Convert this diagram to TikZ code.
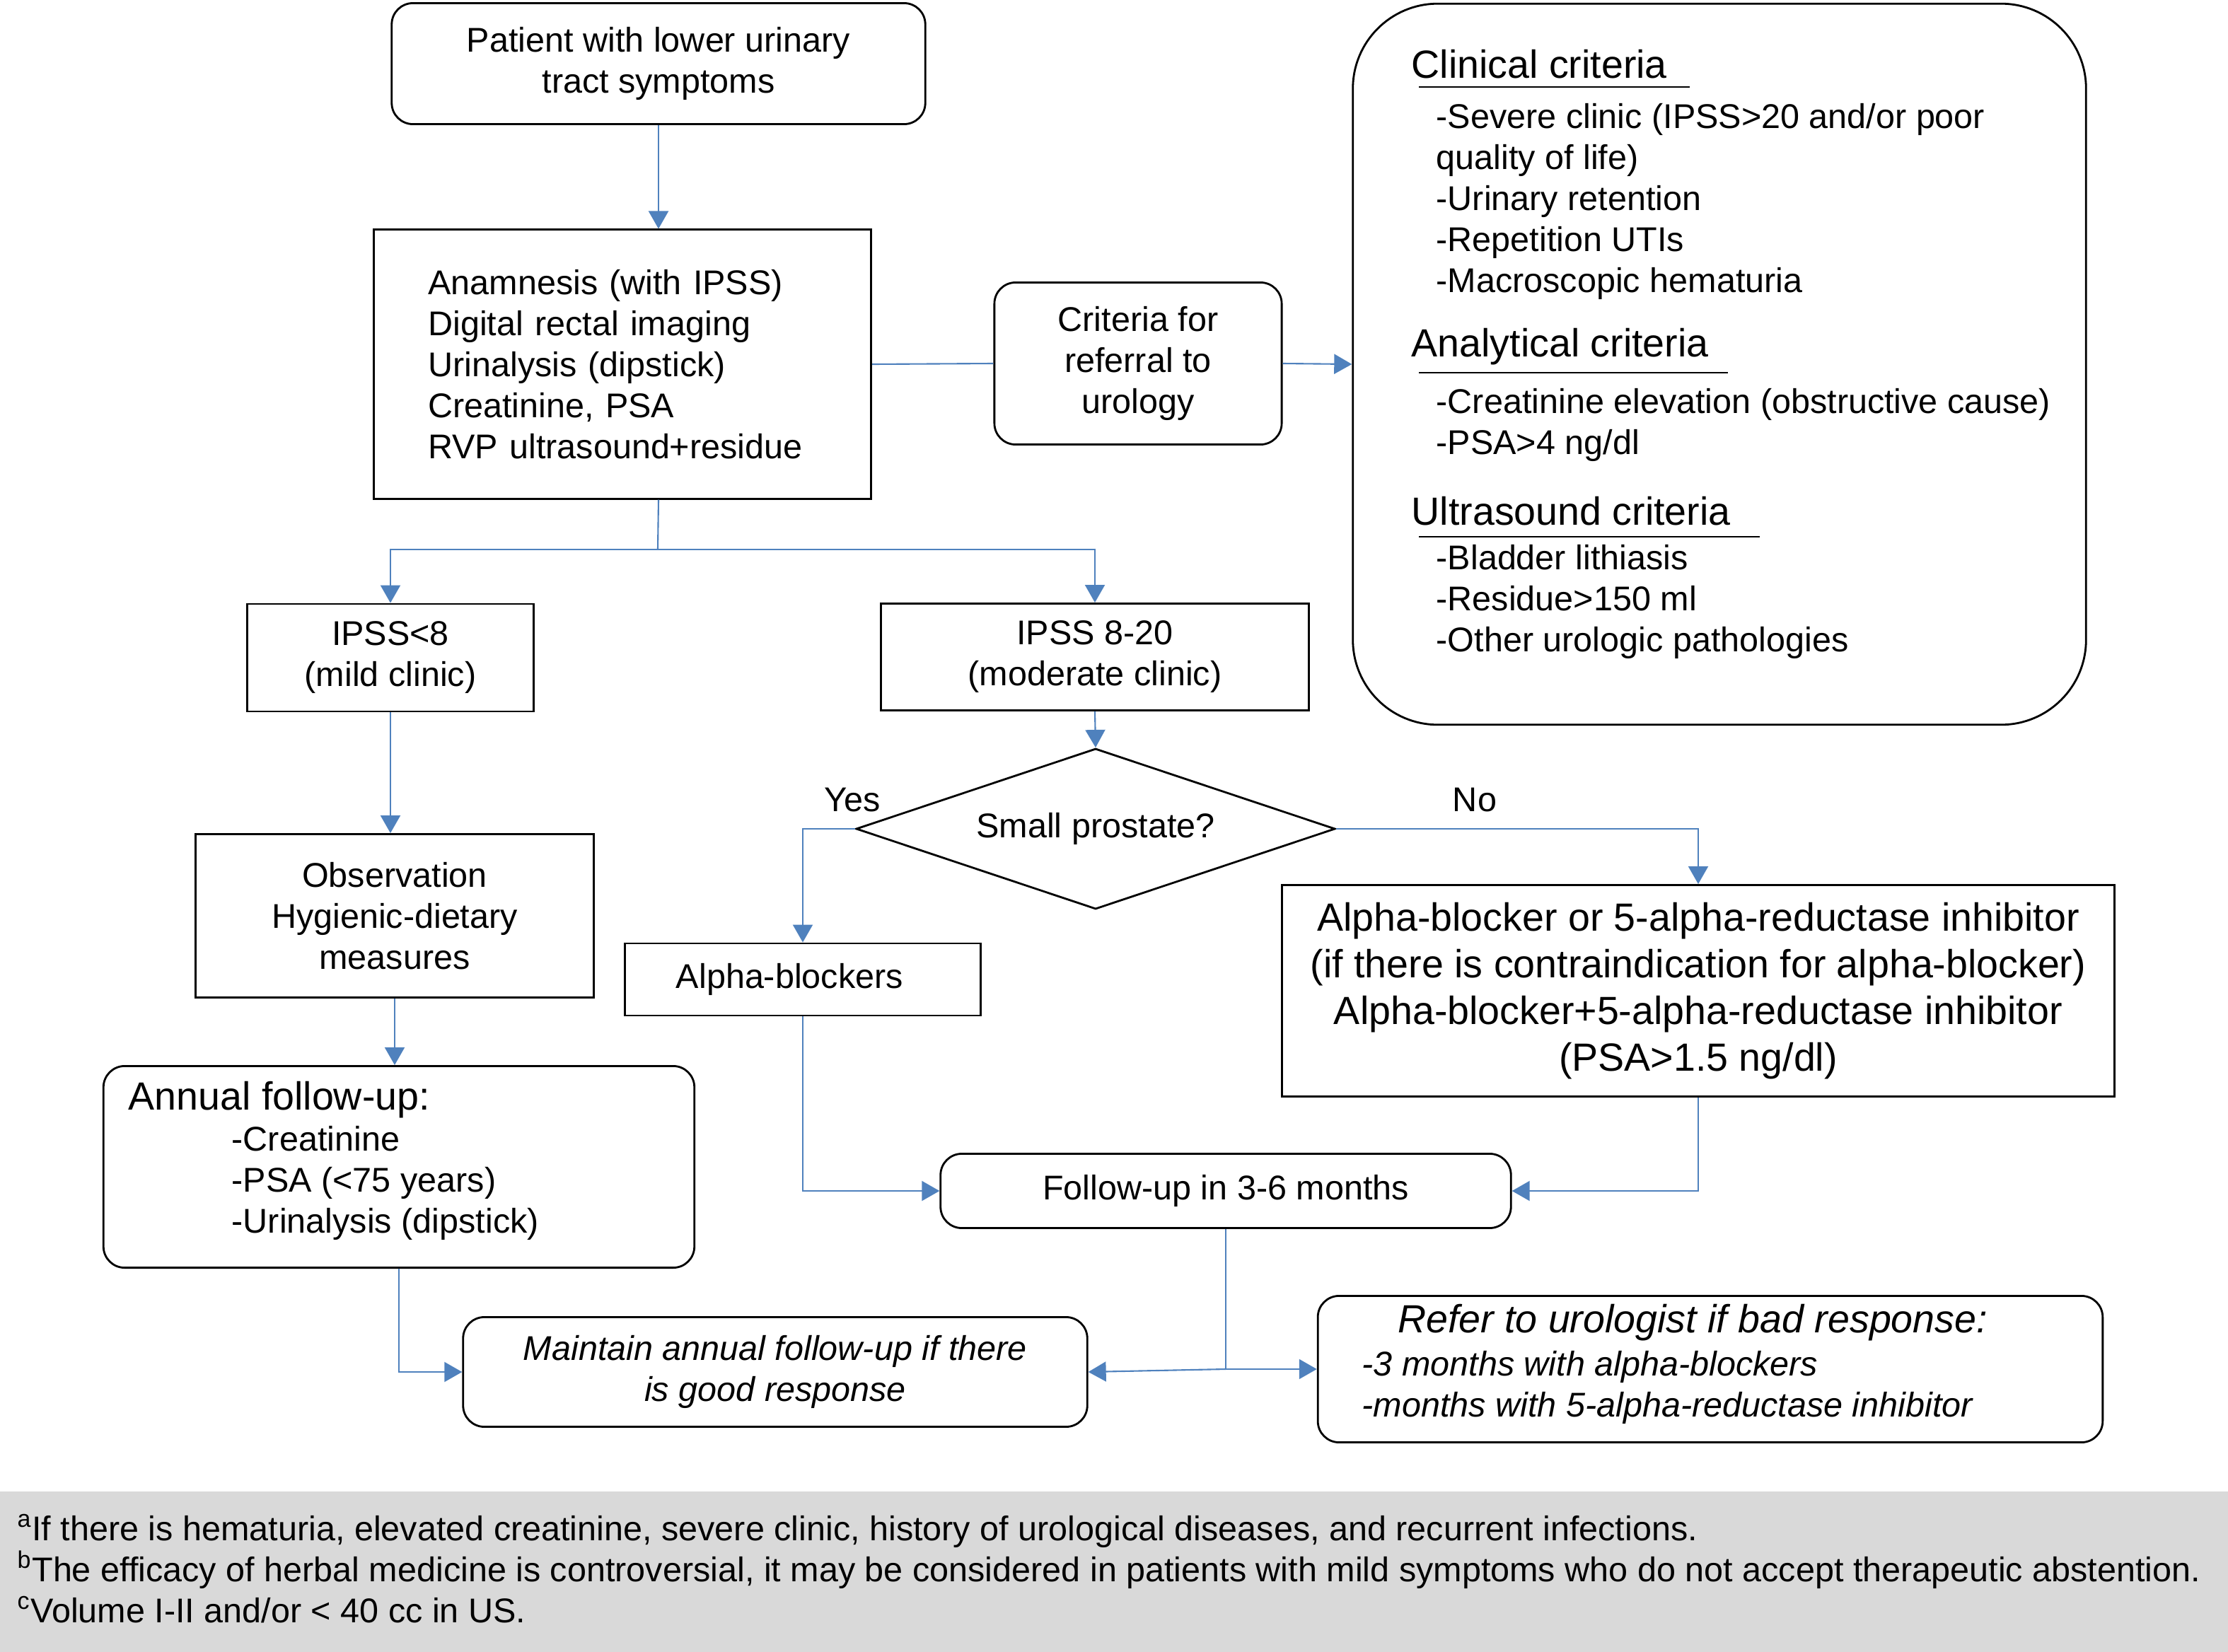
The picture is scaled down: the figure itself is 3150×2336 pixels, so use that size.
\documentclass[tikz,border=0pt]{standalone}
\usepackage{fontspec}
\setmainfont{Liberation Sans}
\usetikzlibrary{arrows.meta,shapes.geometric}
\definecolor{linkblue}{HTML}{4F81BD}
\definecolor{notegray}{HTML}{D9D9D9}

\begin{document}
\begin{tikzpicture}[x=0.01cm, y=-0.01cm, font=\fontsize{13.8}{16.5}\selectfont,
  box/.style={draw, line width=0.8pt, align=center, inner sep=0pt},
  rbox/.style={box, rounded corners=0.3cm},
  big/.style={font=\fontsize{15.8}{18.8}\selectfont},
  lines/.style={anchor=west, align=left, inner sep=0pt},
  link/.style={draw=linkblue, line width=0.6pt},
  arr/.style={link, -{Triangle[length=0.25cm, width=0.28cm]}}]
\useasboundingbox (0,0) rectangle (3150,2336);
% ---------- work-up ----------
\node[rbox, minimum width=7.54cm, minimum height=1.71cm] (patient) at (931,90)
  {Patient with lower urinary\\tract symptoms};
\node[box, align=left, text width=5.49cm, inner xsep=0.77cm, minimum height=3.80cm] (exam) at (880,515)
  {Anamnesis (with IPSS)\\Digital rectal imaging\\Urinalysis (dipstick)\\Creatinine, PSA\\RVP ultrasound+residue};
\node[rbox, minimum width=4.06cm, minimum height=2.29cm] (referral) at (1609,514)
  {Criteria for\\referral to\\urology};
% criteria box, filled in by hand
\node[rbox, rounded corners=1.2cm, minimum width=10.36cm, minimum height=10.19cm] (criteria) at (2431,515) {};
\node[lines, big] (clinical) at (1995,91) {Clinical criteria};
\draw[line width=0.8pt] (2006,123) -- (2389,123);
\node[lines] (clinicalitems) at (2030,285)
  {-Severe clinic (IPSS>20 and/or poor\\quality of life)\\-Urinary retention\\-Repetition UTIs\\-Macroscopic hematuria};
\node[lines, big] (analytical) at (1995,490) {Analytical criteria};
\draw[line width=0.8pt] (2006,527) -- (2443,527);
\node[lines] (analyticalitems) at (2030,601)
  {-Creatinine elevation (obstructive cause)\\-PSA>4 ng/dl};
\node[lines, big] (ultrasound) at (1995,723) {Ultrasound criteria};
\draw[line width=0.8pt] (2006,759) -- (2488,759);
\node[lines] (ultrasounditems) at (2030,851)
  {-Bladder lithiasis\\-Residue>150 ml\\-Other urologic pathologies};
% ---------- severity ----------
\node[box, minimum width=4.05cm, minimum height=1.52cm] (mild) at (552,930)
  {IPSS<8\\(mild clinic)};
\node[box, minimum width=6.04cm, minimum height=1.51cm] (moderate) at (1548,929)
  {IPSS 8-20\\(moderate clinic)};
\node[draw, line width=0.8pt, diamond, aspect=2.98, inner sep=0pt, minimum width=6.77cm, minimum height=2.27cm] (small) at (1549,1172)
  {Small prostate?};
\node (yes) at (1205,1131) {Yes};
\node (no) at (2085,1131) {No};
\node[box, align=left, text width=3.58cm, inner xsep=0.72cm, minimum height=1.02cm] (alpha) at (1135,1385) {Alpha-blockers};
\node[box, big, minimum width=11.77cm, minimum height=2.99cm] (combo) at (2401,1401)
  {Alpha-blocker or 5-alpha-reductase inhibitor\\(if there is contraindication for alpha-blocker)\\Alpha-blocker+5-alpha-reductase inhibitor\\(PSA>1.5 ng/dl)};
\node[box, minimum width=5.63cm, minimum height=2.31cm] (observe) at (558,1295)
  {Observation\\Hygienic-dietary\\measures};
% ---------- follow-up ----------
\node[rbox, minimum width=8.35cm, minimum height=2.85cm] (annual) at (564,1650) {};
\node[lines, big] (annualhead) at (181,1555) {Annual follow-up:};
\node[lines] (annualitems) at (327,1673)
  {-Creatinine\\-PSA (<75 years)\\-Urinalysis (dipstick)};
\node[rbox, minimum width=8.06cm, minimum height=1.05cm] (followup) at (1733,1684)
  {Follow-up in 3-6 months};
\node[rbox, font=\fontsize{13.8}{16.5}\selectfont\itshape, minimum width=8.82cm, minimum height=1.55cm] (maintain) at (1096,1940)
  {Maintain annual follow-up if there\\is good response};
\node[rbox, minimum width=11.09cm, minimum height=2.07cm] (urologist) at (2418,1936) {};
\node[font=\fontsize{15.8}{18.8}\selectfont\itshape] (urohead) at (2393,1870) {Refer to urologist if bad response:};
\node[lines, font=\fontsize{13.8}{16.5}\selectfont\itshape] (uroitems) at (1925,1962)
  {-3 months with alpha-blockers\\-months with 5-alpha-reductase inhibitor};
% ---------- connectors ----------
\draw[arr] (patient.south) -- (patient.south |- exam.north);
\draw[link] (exam.east) -- (referral.west);
\draw[arr] (referral.east) -- (criteria.west);
\coordinate (split) at (930,777);
\draw[link] (patient.south |- exam.south) -- (split);
\draw[arr] (split) -| (mild.north);
\draw[arr] (split) -| (moderate.north);
\draw[arr] (moderate.south) -- (small.north);
\draw[arr] (small.west) -| (alpha.north);
\draw[arr] (small.east) -| (combo.north);
\draw[arr] (mild.south) -- (mild.south |- observe.north);
\draw[arr] (observe.south) -- (observe.south |- annual.north);
\draw[arr] (alpha.south) |- (followup.west);
\draw[arr] (combo.south) |- (followup.east);
\draw[arr] (annual.south) |- (maintain.west);
\coordinate (branch) at (followup.south |- urologist.west);
\draw[link] (followup.south) -- (branch);
\draw[arr] (branch) -- (maintain.east);
\draw[arr] (branch) -- (urologist.west);
% ---------- footnotes ----------
\fill[notegray] (0,2109) rectangle (3150,2336);
\node[lines] (notes) at (24,2218)
  {\textsuperscript{a}If there is hematuria, elevated creatinine, severe clinic, history of urological diseases, and recurrent infections.\\
   \textsuperscript{b}The efficacy of herbal medicine is controversial, it may be considered in patients with mild symptoms who do not accept therapeutic abstention.\\
   \textsuperscript{c}Volume I-II and/or < 40 cc in US.};
\end{tikzpicture}
\end{document}
